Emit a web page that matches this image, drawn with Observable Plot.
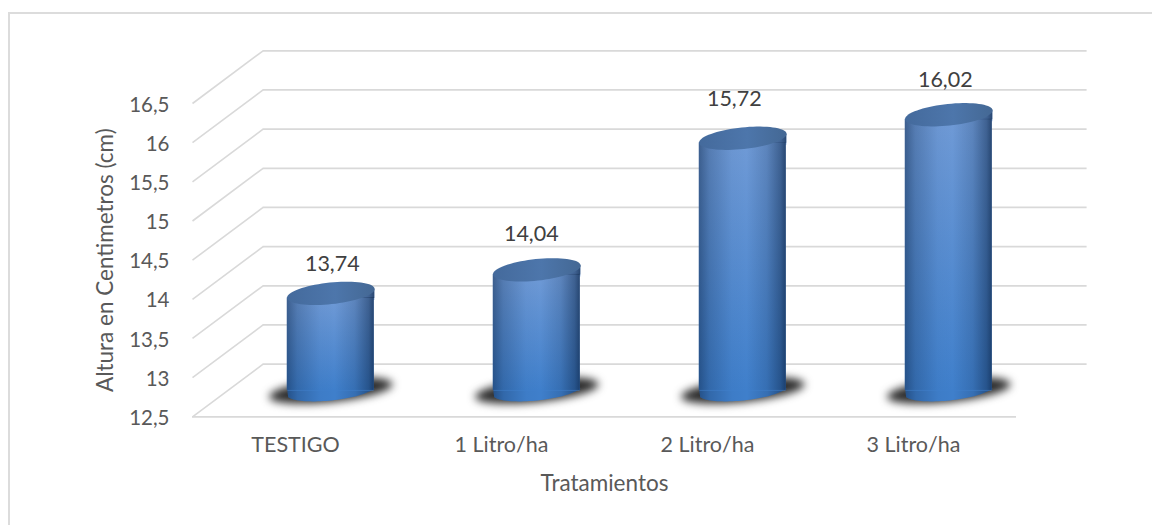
<!DOCTYPE html>
<html lang="es">
<head>
<meta charset="utf-8">
<title>Altura en Centimetros por tratamiento</title>
<script src="https://cdn.jsdelivr.net/npm/d3@7"></script>
<script src="https://cdn.jsdelivr.net/npm/@observablehq/plot@0.6"></script>
<style>
  html, body { margin: 0; padding: 0; background: #fff; width: 1152px; height: 525px; overflow: hidden; }
  #outline { position: absolute; left: 8px; top: 12px; right: 0; bottom: 0; border-left: 2px solid #dcdcdc; border-top: 2px solid #dcdcdc; }
  #chart { position: absolute; left: 0; top: 0; }
  #chart svg { display: block; }
  #chart svg g[fill="#2b2b2b"] { filter: blur(4.2px); }
</style>
</head>
<body>
<div id="outline"></div>
<div id="chart"></div>
<script>
const categories = ["TESTIGO", "1 Litro/ha", "2 Litro/ha", "3 Litro/ha"];
const values = [13.74, 14.04, 15.72, 16.02];
const valueLabels = ["13,74", "14,04", "15,72", "16,02"];
const yTicks = [12.5, 13, 13.5, 14, 14.5, 15, 15.5, 16, 16.5];
const yLabel = "Altura en Centimetros (cm)";
const xLabel = "Tratamientos";

// label nudges relative to the cylinder's lid
const labelDx = [1.5, -5.5, -8.5, -3.5];
const labelDy = [-29.5, -36, -39, -35];

const rows = categories.map((name, i) => ({name, value: values[i], label: valueLabels[i], i}));
const baseline = yTicks[0];
const depthX = 70.6, depthY = -52.7;            // oblique depth of the floor
const midX = depthX / 2, midY = depthY / 2;     // cylinders stand half way back
const halfW = 43.5, tilt = -6 * Math.PI / 180;
const rise = halfW * Math.tan(-tilt);

function ellipsePoint(rx, ry, t) {
  const ex = rx * Math.cos(t), ey = ry * Math.sin(t);
  return [ex * Math.cos(tilt) - ey * Math.sin(tilt), ex * Math.sin(tilt) + ey * Math.cos(tilt)];
}
function tiltedEllipse(rx, ry) {
  return {
    draw(c) {
      const n = 72;
      for (let k = 0; k < n; ++k) {
        const [px, py] = ellipsePoint(rx, ry, 2 * Math.PI * k / n);
        k ? c.lineTo(px, py) : c.moveTo(px, py);
      }
      c.closePath();
    }
  };
}
// Lower part of the base ellipse, cut flat where the bar ends
function footShape(rx, ry, top) {
  return {
    draw(c) {
      c.moveTo(halfW, top);
      const n = 48;
      for (let k = 0; k <= n; ++k) {
        const [px, py] = ellipsePoint(rx, ry, Math.PI * k / n - 0.2);
        c.lineTo(Math.max(-halfW, Math.min(halfW, px)), Math.max(0, py));
      }
      c.lineTo(-halfW, top);
      c.closePath();
    }
  };
}
// Wedge between the tilted lid and the flat top of the bar
function skirtShape(extra) {
  return {
    draw(c) {
      c.moveTo(-halfW, rise);
      c.lineTo(halfW, -rise);
      c.lineTo(halfW, rise + extra);
      c.lineTo(-halfW, rise + extra);
      c.closePath();
    }
  };
}
const diagonal = {
  draw(c) { c.moveTo(0, 0); c.lineTo(depthX, depthY); }
};

const lidSym = tiltedEllipse(44, 10.8);
const shadowSym = tiltedEllipse(62, 11.5);

const gradients = () => {
  const defs = d3.create("svg:defs");
  defs.html(`
    <linearGradient id="bodyV" x1="0" y1="0" x2="0" y2="1">
      <stop offset="0" stop-color="#6f9ad6"/><stop offset="1" stop-color="#3f7fcb"/>
    </linearGradient>
    <linearGradient id="sideShade" x1="0" y1="0" x2="1" y2="0">
      <stop offset="0" stop-color="#0b2447" stop-opacity="0.5"/>
      <stop offset="0.12" stop-color="#0b2447" stop-opacity="0.25"/>
      <stop offset="0.38" stop-color="#0b2447" stop-opacity="0.03"/>
      <stop offset="0.55" stop-color="#0b2447" stop-opacity="0"/>
      <stop offset="0.78" stop-color="#0b2447" stop-opacity="0.18"/>
      <stop offset="0.94" stop-color="#0b2447" stop-opacity="0.48"/>
      <stop offset="1" stop-color="#0b2447" stop-opacity="0.7"/>
    </linearGradient>
    <linearGradient id="lidFill" x1="0" y1="0" x2="1" y2="0">
      <stop offset="0" stop-color="#446a9c"/><stop offset="0.55" stop-color="#4d76ab"/><stop offset="1" stop-color="#446894"/>
    </linearGradient>`);
  return defs.node();
};

const atDepth = {dx: midX, dy: midY};
const barOptions = {x: "name", y1: () => baseline, y2: "value", insetLeft: 103 - halfW, insetRight: 103 - halfW, insetTop: rise, ...atDepth};

const plot = Plot.plot({
  width: 1152,
  height: 525,
  marginLeft: 192,
  marginRight: 136,
  marginTop: 103,
  marginBottom: 108.7,
  style: {fontFamily: "Lato, sans-serif", fontSize: "20.5px", color: "#595959", background: "transparent", overflow: "visible"},
  x: {type: "band", domain: categories, padding: 0, align: 0.5, label: null},
  y: {domain: [yTicks[0], yTicks[yTicks.length - 1]], label: null},
  marks: [
    gradients,
    Plot.ruleY(yTicks, {dx: depthX, dy: depthY, stroke: "#d9d9d9", strokeWidth: 1.8}),
    Plot.dot(yTicks, {x: () => categories[0], y: d => d, dx: -103, symbol: diagonal, fill: "none", stroke: "#d9d9d9", strokeWidth: 1.6}),
    Plot.ruleY([baseline], {stroke: "#d9d9d9", strokeWidth: 1.8}),
    Plot.axisY({ticks: yTicks, tickSize: 0, tickPadding: 23, dy: 1.5, tickFormat: d => String(d).replace(".", ","), label: null}),
    Plot.axisX({tickSize: 0, tickPadding: 20, fontSize: 21.5, label: null}),
    Plot.text([yLabel], {frameAnchor: "left", textAnchor: "middle", rotate: -90, dx: -87, fontSize: 22.5, fill: "#595959"}),
    Plot.text([xLabel], {frameAnchor: "bottom", textAnchor: "middle", dy: 74, fontSize: 22.5, fill: "#595959"}),
    Plot.dot(rows, {x: "name", y: () => baseline, symbol: shadowSym, fill: "#2b2b2b", ...atDepth}),
    // opaque colour layer (pieces overlap a little so that no seam shows)
    Plot.dot(rows, {x: "name", y: () => baseline, symbol: footShape(44, 10, -2), fill: "#3f7fcb", ...atDepth}),
    Plot.barY(rows, {...barOptions, fill: "url(#bodyV)"}),
    Plot.dot(rows, {x: "name", y: "value", symbol: skirtShape(2), fill: "#6f9ad6", ...atDepth}),
    // side shading, the pieces abut exactly
    Plot.dot(rows, {x: "name", y: () => baseline, symbol: footShape(44, 10, 0), fill: "url(#sideShade)", ...atDepth}),
    Plot.barY(rows, {...barOptions, fill: "url(#sideShade)"}),
    Plot.dot(rows, {x: "name", y: "value", symbol: skirtShape(0), fill: "url(#sideShade)", ...atDepth}),
    Plot.dot(rows, {x: "name", y: "value", symbol: lidSym, fill: "url(#lidFill)", ...atDepth}),
    ...rows.map((r, i) => Plot.text([r], {x: "name", y: "value", text: "label", dx: midX + labelDx[i], dy: midY + labelDy[i], fill: "#404040", fontSize: 21.5}))
  ]
});
document.getElementById("chart").append(plot);
</script>
</body>
</html>
